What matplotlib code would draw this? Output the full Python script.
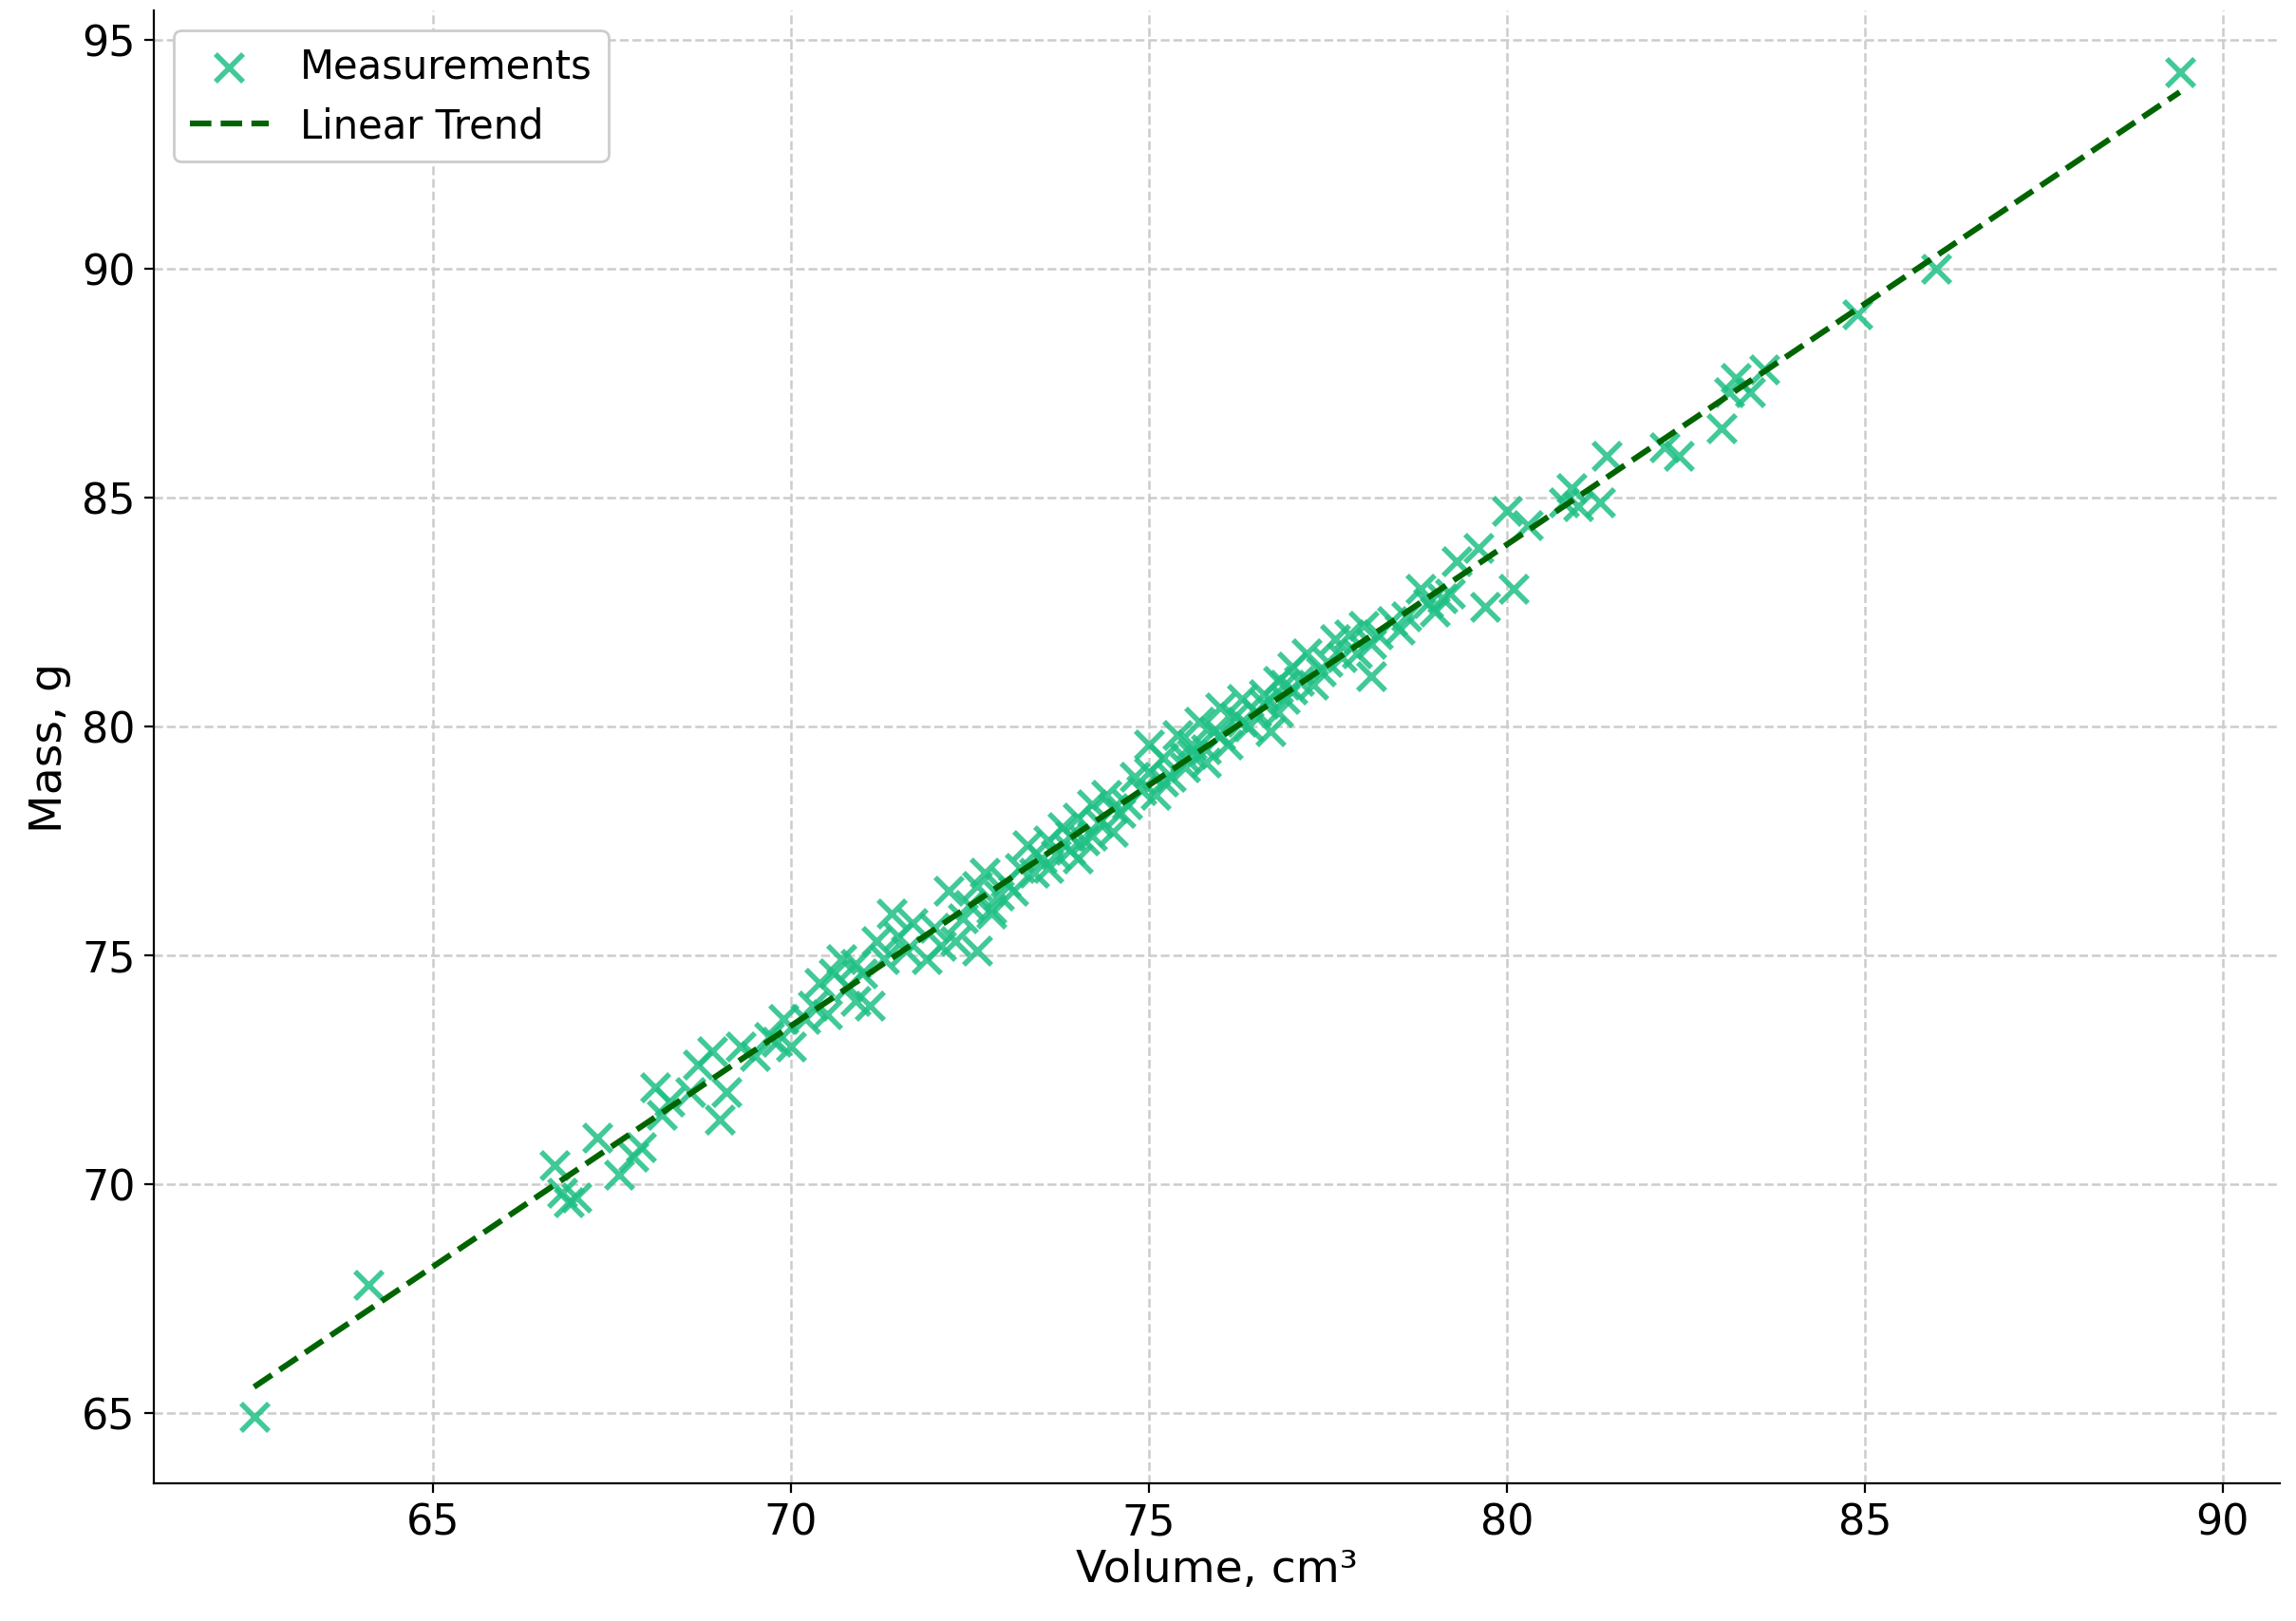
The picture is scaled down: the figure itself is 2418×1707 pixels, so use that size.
import matplotlib.pyplot as plt
import numpy as np

volume = [62.5, 64.1, 66.7, 66.8, 66.9, 67.0, 67.3, 67.6, 67.8, 67.9,
          68.1, 68.2, 68.3, 68.6, 68.7, 68.9, 69.0, 69.1, 69.3, 69.5,
          69.7, 69.8, 69.9, 70.0, 70.2, 70.4, 70.5, 70.6, 70.7, 70.8,
          70.9, 71.0, 71.2, 71.3, 71.4, 71.5, 71.7, 71.9, 72.0, 72.1,
          72.2, 72.4, 72.5, 72.6, 72.7, 72.8, 72.9, 73.0, 73.2, 73.3,
          73.4, 73.5, 73.6, 73.7, 73.8, 73.9, 74.0, 74.1, 74.2, 74.3,
          74.4, 74.5, 74.6, 74.8, 74.9, 75.0, 75.1, 75.2, 75.3, 75.4,
          75.5, 75.6, 75.7, 75.8, 75.9, 76.0, 76.1, 76.2, 76.3, 76.4,
          76.5, 76.6, 76.7, 76.8, 76.9, 77.0, 77.1, 77.2, 77.3, 77.5,
          77.6, 77.8, 77.9, 78.0, 78.1, 78.2, 78.4, 78.6, 78.8, 78.9,
          79.0, 79.2, 79.3, 79.6, 79.7, 80.0, 80.1, 80.3, 80.8, 80.9,
          81.0, 81.3, 81.4, 82.2, 82.4, 83.0, 83.1, 83.2, 83.4, 83.6,
          84.9, 86.0, 89.4,
          70.3, 70.9, 71.6, 72.3, 72.8, 73.1, 73.6, 74.0, 74.2, 74.5,
          74.7, 75.0, 75.2, 75.5, 75.8, 76.0, 76.3, 76.6, 76.8, 77.0,
          77.4, 77.7, 78.1, 78.5, 79.1, 71.1, 72.6, 73.9, 75.6, 76.9]
mass = [64.9, 67.8, 70.4, 69.8, 69.6, 69.7, 71.0, 70.2, 70.6, 70.8,
        72.1, 71.5, 71.8, 72.0, 72.6, 72.9, 71.4, 72.0, 73.0, 72.8,
        73.2, 73.1, 73.6, 73.0, 73.6, 74.4, 73.7, 74.6, 74.9, 74.3,
        74.8, 74.6, 75.3, 74.9, 75.9, 75.4, 75.7, 74.9, 75.6, 75.2,
        76.4, 75.8, 76.1, 75.1, 76.8, 75.9, 76.3, 76.6, 76.9, 77.4,
        76.8, 77.1, 77.5, 77.2, 77.8, 77.3, 78.0, 77.5, 78.3, 77.9,
        78.5, 78.2, 78.1, 78.9, 78.6, 79.6, 78.5, 79.3, 78.9, 79.8,
        79.1, 79.6, 80.1, 79.2, 79.9, 80.4, 79.6, 80.2, 80.6, 80.0,
        80.3, 80.7, 79.9, 81.0, 80.6, 81.3, 81.0, 81.6, 80.9, 81.4,
        81.9, 82.0, 81.6, 82.2, 81.1, 82.0, 82.3, 82.4, 83.0, 82.7,
        82.5, 82.9, 83.6, 83.9, 82.6, 84.7, 83.0, 84.4, 84.9, 85.2,
        84.8, 84.9, 85.9, 86.1, 85.9, 86.5, 87.3, 87.6, 87.3, 87.8,
        89.0, 90.0, 94.3,
        73.9, 74.0, 75.1, 75.3, 76.0, 76.4, 76.9, 77.1, 77.6, 77.7,
        78.3, 79.0, 78.8, 79.3, 79.5, 79.8, 80.1, 80.5, 80.3, 80.8,
        81.2, 81.5, 81.8, 82.1, 82.8, 73.9, 76.5, 77.6, 79.4, 80.9]

trend_x = np.array([62.5, 89.4])
slope, intercept = np.polyfit(volume, mass, 1)
trend_y = slope * trend_x + intercept

fig = plt.figure(figsize=(12.09, 8.54), dpi=200)
ax = fig.add_axes([0.067, 0.085, 0.926, 0.908])

ax.scatter(volume, mass, marker="x", s=110, linewidths=2, color="#1fc085",
           alpha=0.85, label="Measurements", zorder=3)
ax.plot(trend_x, trend_y, "--", color="#006400", linewidth=2.2,
        label="Linear Trend", zorder=4)

ax.set_xlim(61.1, 90.8)
ax.set_ylim(63.46, 95.64)
ax.set_xticks([65, 70, 75, 80, 85, 90])
ax.set_yticks([65, 70, 75, 80, 85, 90, 95])
ax.tick_params(labelsize=16)
ax.set_xlabel("Volume, cm³", fontsize=17, labelpad=2)
ax.set_ylabel("Mass, g", fontsize=17)
ax.grid(True, linestyle="--", color="#cccccc", linewidth=0.9)
for s in ["top", "right"]:
    ax.spines[s].set_visible(False)
ax.legend(loc="upper left", fontsize=15, framealpha=1, edgecolor="#cccccc")

fig.savefig("out.png", dpi=200)
